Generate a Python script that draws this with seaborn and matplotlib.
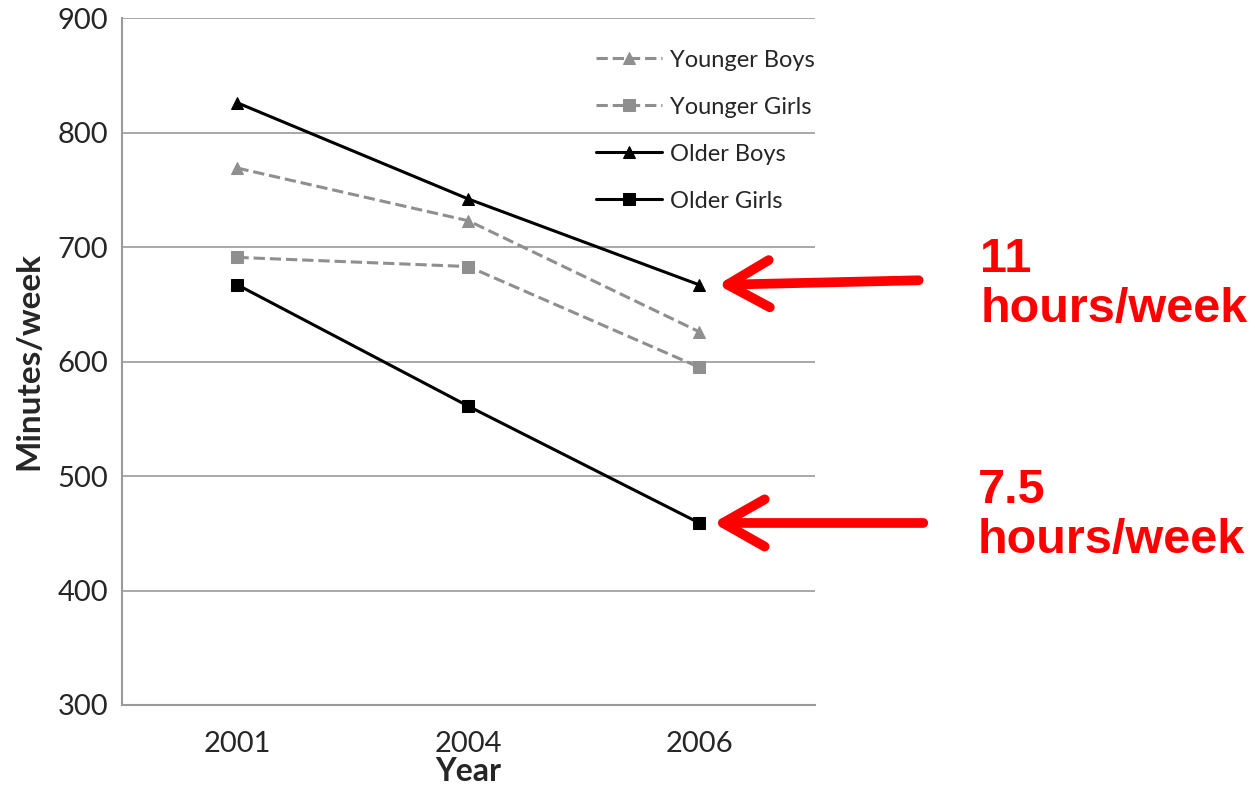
import seaborn as sns
import matplotlib.pyplot as plt
import pandas as pd

# data
years = ['2001', '2004', '2006']
younger_boys = [769, 723, 626]
younger_girls = [691, 683, 595]
older_boys = [826, 742, 667]
older_girls = [667, 561, 459]

sns.set_style('white')
plt.rcParams['font.family'] = ['Lato', 'DejaVu Sans']

series = {
    'Younger Boys': younger_boys,
    'Younger Girls': younger_girls,
    'Older Boys': older_boys,
    'Older Girls': older_girls,
}
rows = []
for name, vals in series.items():
    for yr, v in zip(years, vals):
        rows.append({'Year': yr, 'Minutes': v, 'Group': name})
df = pd.DataFrame(rows)

styles = {
    'Younger Boys': dict(color='#8f8f8f', linestyle='--', marker='^'),
    'Younger Girls': dict(color='#8f8f8f', linestyle='--', marker='s'),
    'Older Boys': dict(color='black', linestyle='-', marker='^'),
    'Older Girls': dict(color='black', linestyle='-', marker='s'),
}

fig = plt.figure(figsize=(12.55, 7.89), dpi=100)
ax = fig.add_axes([0.0972, 0.1065, 0.552, 0.8705])

for name in series:
    sub = df[df['Group'] == name]
    st = styles[name]
    sns.lineplot(data=sub, x='Year', y='Minutes', ax=ax, label=name,
                 color=st['color'], linestyle=st['linestyle'], marker=st['marker'],
                 markersize=9, markeredgecolor=st['color'], linewidth=2.2,
                 dashes=False if st['linestyle'] == '-' else (3, 3))

ax.set_ylim(300, 900)
ax.set_xlim(-0.5, 2.5)
ax.set_yticks(range(300, 901, 100))
ax.yaxis.grid(True, color='#9a9a9a', linewidth=1.2)
ax.set_axisbelow(True)
for s in ['top', 'right']:
    ax.spines[s].set_visible(False)
for s in ['left', 'bottom']:
    ax.spines[s].set_color('#9a9a9a')
    ax.spines[s].set_linewidth(1.5)

ax.set_xticks([0, 1, 2])
ax.set_xticklabels(years)
ax.set_xticks([-0.5, 0.5, 1.5, 2.5], minor=True)
ax.tick_params(axis='x', which='major', length=0, pad=19, labelsize=21)
ax.tick_params(axis='x', which='minor', length=6, color='#9a9a9a', width=1.5)
ax.tick_params(axis='y', length=6, color='#9a9a9a', width=1.5, labelsize=21, pad=4)

ax.set_xlabel('Year', fontsize=23, fontweight='bold', labelpad=0)
ax.set_ylabel('Minutes/week', fontsize=24, fontweight='bold', labelpad=10)

leg = ax.legend(loc='upper right', bbox_to_anchor=(1.03, 0.985), frameon=False,
                fontsize=17, handlelength=2.8, labelspacing=1.1, handletextpad=0.3)

# red arrows and notes
arrow = dict(arrowstyle='->,head_length=1.5,head_width=0.85', color='red', lw=7,
             mutation_scale=20, shrinkA=0, shrinkB=0, capstyle='round')
ax.annotate('', xy=(2.08, 667), xytext=(2.95, 671), arrowprops=arrow,
            annotation_clip=False)
ax.annotate('', xy=(2.06, 459), xytext=(2.97, 459), arrowprops=arrow,
            annotation_clip=False)

fig.text(0.781, 0.70, '11\nhours/week', color='red', fontsize=35, fontweight='bold',
         family='Liberation Sans', va='top', linespacing=1.15)
fig.text(0.779, 0.407, '7.5\nhours/week', color='red', fontsize=35, fontweight='bold',
         family='Liberation Sans', va='top', linespacing=1.15)

fig.savefig('out.png', dpi=100)
